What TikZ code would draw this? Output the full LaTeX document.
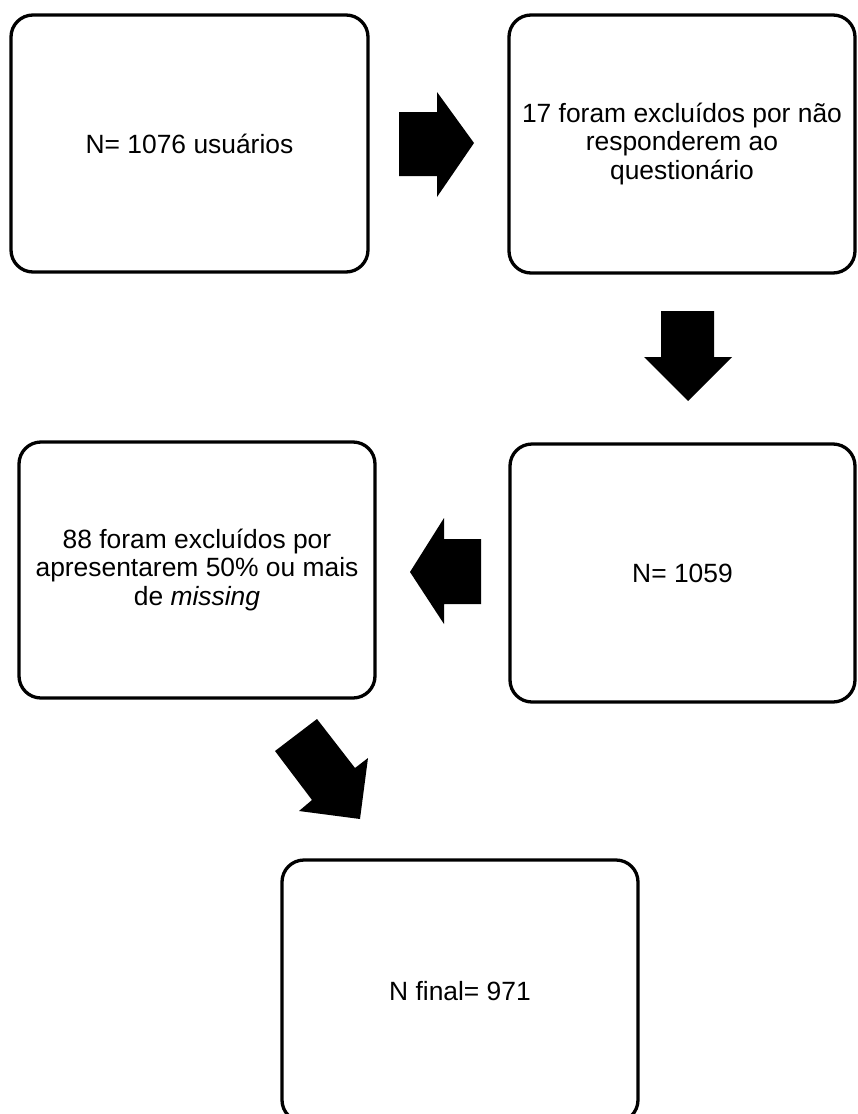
\documentclass[tikz,border=0pt]{standalone}
\usepackage{fontspec}
\setmainfont{Liberation Sans}
\begin{document}
\begin{tikzpicture}[x=1pt,y=-1pt,
  box/.style={draw=black, line width=3.3pt, rounded corners=22pt, fill=white,
    inner sep=0pt, align=center, font=\fontsize{26.4}{28.5}\selectfont},
  blockarrow/.style={fill=black}]
\useasboundingbox (0,0) rectangle (857,1114);
\node[box, minimum width=357pt, minimum height=257pt] (b1) at (189.5,143.5) {N= 1076 usuários};
\node[box, minimum width=346pt, minimum height=258pt] (b2) at (682,144) {17 foram excluídos por não\\responderem ao\\questionário};
\node[box, minimum width=345pt, minimum height=258pt] (b3) at (682.5,573) {N= 1059};
\node[box, minimum width=356pt, minimum height=256pt] (b4) at (197,570) {88 foram excluídos por\\apresentarem 50\% ou mais\\de \textit{missing}};
\node[box, minimum width=356pt, minimum height=262pt] (b5) at (460,991) {N final= 971};
% block arrows
\fill[blockarrow] (399,112) -- (437,112) -- (437,92) -- (474,143) -- (437,197) -- (437,176) -- (399,176) -- cycle;
\fill[blockarrow] (661,311) -- (714,311) -- (714,357) -- (732,357) -- (688,401) -- (644,357) -- (661,357) -- cycle;
\fill[blockarrow] (481,539) -- (444,539) -- (444,518) -- (410,572) -- (444,624) -- (444,604) -- (481,604) -- cycle;
\fill[blockarrow] (275,751) -- (317,719) -- (355,768) -- (368,758) -- (360,819) -- (299,811) -- (312,800) -- cycle;
\end{tikzpicture}
\end{document}
